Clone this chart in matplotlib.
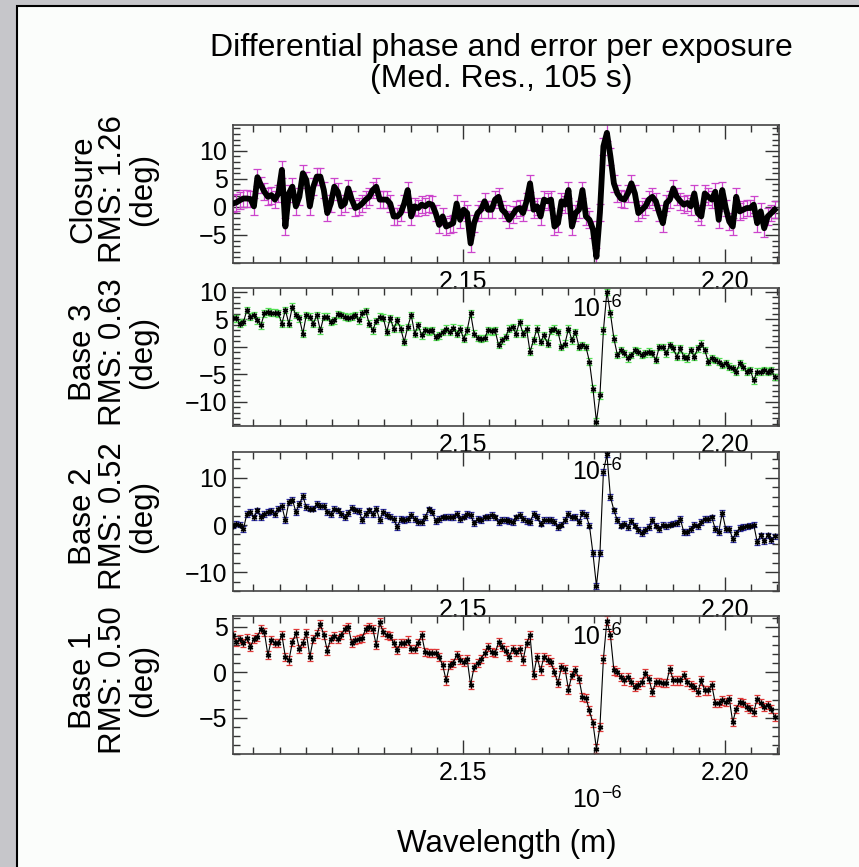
import matplotlib.pyplot as plt
import matplotlib.patches as patches
from matplotlib.ticker import FixedLocator, MultipleLocator, FormatStrFormatter
import numpy as np

plt.rcParams['font.family'] = ['Liberation Sans', 'DejaVu Sans']

# wavelength grid (micron, shown with a 10^-6 offset)
wl_start = 2.1061
wl_step = 0.000667

closure = [0.6, 0.8, 1.2, 1.5, 1.5, 1.4, 0.1, 5.3, 3.9, 2.7,
           1.8, 2.1, 1.3, 2.4, 6.6, -3.5, 2.4, 3.6, 0.1, 1.8,
           6.0, 4.8, 0.1, 3.6, 5.4, 5.4, 3.0, -1.1, 0.6, 3.6,
           2.7, 0.1, 0.6, 3.3, 1.3, -0.2, 0.1, 0.6, 1.3, 1.8,
           3.0, 3.6, 1.3, 1.3, 1.3, 0.6, -1.7, -1.7, -1.1, 0.6,
           3.0, -1.7, 0.1, -0.2, 0.4, 0.1, 0.6, 0.4, -1.1, -3.2,
           -1.7, -3.5, -3.2, -2.9, 0.6, -2.3, -0.5, -1.1, -6.5, -2.9,
           -1.1, -0.5, 1.0, -0.5, -0.5, 1.3, 1.8, -0.5, -1.1, -2.3,
           -1.4, -0.5, -0.2, -1.1, 1.0, 4.2, -0.5, 0.1, -1.7, 1.3,
           1.0, 1.3, -3.5, -2.9, 1.0, 0.4, 3.0, -3.5, -1.1, -0.5,
           3.0, -1.7, -2.3, -4.0, -8.9, -1.0, 10.8, 13.2, 9.0, 4.2,
           2.4, 1.5, 1.3, 2.4, 4.2, 2.4, -1.1, -0.5, 0.1, 1.3,
           1.8, 1.0, -1.1, -2.9, 0.7, 1.3, 3.3, 1.8, 1.0, 0.4,
           0.7, 0.1, 2.4, -1.1, -1.7, 2.4, 1.8, 1.3, 2.7, -2.3,
           3.0, -0.2, -2.6, -3.5, 1.8, -0.8, -0.5, -0.2, -0.2, 0.4,
           -2.9, -0.8, -3.8, -1.7, -1.1, -0.5]

base3 = [5.2, 5.2, 4.2, 4.5, 6.7, 5.5, 5.8, 4.8, 3.9, 6.1,
         6.4, 6.2, 6.2, 6.1, 4.2, 6.7, 4.2, 7.3, 5.8, 5.2,
         2.4, 5.8, 5.5, 4.2, 5.8, 3.0, 5.5, 5.5, 4.5, 4.8,
         5.9, 5.8, 5.5, 5.3, 5.5, 5.8, 4.8, 6.1, 6.5, 4.2,
         3.0, 4.7, 5.5, 5.3, 2.7, 5.2, 3.3, 4.8, 3.3, 0.9,
         3.6, 5.8, 2.4, 3.9, 2.1, 3.0, 2.8, 3.0, 1.8, 2.1,
         2.7, 3.3, 2.7, 3.5, 2.4, 3.3, 1.5, 3.0, 6.1, 2.4,
         1.6, 1.5, 1.6, 3.0, 2.8, 3.0, 0.3, 1.2, 1.8, 3.3,
         3.6, 2.4, 4.5, 2.4, 3.3, -0.9, 1.2, 3.3, 0.9, 2.1,
         0.6, 3.0, 3.3, 2.7, 0.0, 0.6, 3.3, 1.2, 2.7, 0.0,
         0.3, 0.0, -2.7, -7.6, -13.6, -8.8, 3.0, 10.0, 6.1, 1.5,
         -1.5, -0.6, -1.2, -2.1, -1.5, -0.6, -0.9, -1.5, -1.2, -0.9,
         -1.2, -2.4, 0.0, 0.0, -1.2, 0.3, -0.3, -1.8, -0.3, -1.8,
         -2.1, -0.6, -1.8, -0.3, 0.6, -0.6, -2.7, -2.1, -2.4, -2.7,
         -3.3, -3.0, -3.6, -3.9, -4.5, -3.0, -3.6, -4.5, -4.2, -6.1,
         -4.5, -4.5, -4.2, -4.5, -4.2, -5.5]

base2 = [-0.1, 0.3, 0.1, -0.8, 2.4, 2.8, 1.6, 3.1, 1.7, 2.4,
         2.8, 3.0, 2.4, 3.5, 4.0, 1.0, 4.9, 5.4, 2.8, 4.4,
         6.1, 3.8, 3.5, 3.5, 4.4, 4.0, 4.0, 2.8, 2.4, 3.5,
         3.1, 2.4, 1.7, 2.6, 3.7, 3.1, 3.0, 1.1, 2.4, 3.1,
         2.4, 3.5, 1.1, 2.8, 2.1, 1.8, 1.3, -0.4, 1.3, 1.0,
         1.3, 2.1, 1.3, 0.6, 0.6, 1.7, 3.3, 2.8, 0.9, 1.3,
         1.6, 1.8, 1.7, 1.7, 2.4, 1.3, 1.8, 2.3, 2.1, 0.4,
         1.3, 1.0, 1.6, 1.7, 2.1, 1.6, 0.6, 1.1, 1.1, 0.9,
         0.6, 1.6, 2.1, 1.3, 0.9, 0.6, 2.4, 1.7, 0.3, 1.1,
         1.1, 1.1, 0.6, -0.4, 0.1, 1.0, 2.4, 1.6, 1.7, 0.6,
         2.6, 2.1, -0.1, -6.0, -12.9, -6.0, 11.3, 15.0, 6.0, 3.1,
         1.0, -0.1, 0.3, -0.4, 0.9, -0.1, -1.1, -1.7, -1.1, -0.4,
         1.1, -0.1, -0.8, 0.1, -0.3, 0.1, 0.3, 0.4, 1.3, -1.5,
         -1.5, -0.8, 0.1, -0.3, 0.6, 1.3, 1.3, 1.6, -0.8, -1.5,
         2.6, -0.8, -0.8, -2.9, -1.7, -0.6, -0.4, -0.3, -0.1, 0.1,
         -3.6, -2.2, -3.4, -2.2, -3.2, -2.4]

base1 = [4.1, 3.3, 3.7, 3.2, 3.8, 2.8, 3.7, 3.9, 4.8, 4.4,
         1.9, 3.6, 3.2, 3.2, 4.1, 1.7, 1.3, 3.3, 4.3, 2.6,
         3.2, 4.3, 1.7, 3.7, 4.2, 5.3, 4.1, 2.4, 3.7, 4.0,
         3.7, 4.1, 4.8, 5.0, 3.2, 3.6, 3.7, 3.8, 4.8, 5.0,
         4.8, 3.0, 5.5, 4.4, 4.1, 4.0, 3.2, 2.5, 3.2, 3.2,
         3.5, 2.6, 2.6, 3.2, 4.1, 2.2, 2.1, 2.1, 2.1, 1.7,
         0.8, -0.9, 0.8, 1.0, 1.9, 1.4, 1.1, 1.5, -1.4, 0.6,
         1.0, 1.5, 2.1, 2.8, 2.2, 2.1, 3.3, 2.8, 2.4, 1.7,
         2.6, 2.2, 2.6, 1.3, 3.2, 4.1, -0.3, 1.7, 0.2, 1.7,
         1.4, 1.1, 0.0, -1.2, 0.6, 0.4, -1.9, -0.3, 0.2, -0.7,
         -2.7, -2.8, -4.2, -5.6, -8.4, -6.0, 1.5, 5.7, 4.1, 0.2,
         0.0, -0.5, -0.9, -0.5, -1.1, -1.6, -1.4, -1.1, -0.1, -0.7,
         -2.2, -1.1, -1.1, -1.2, -1.2, 0.4, -0.9, -0.9, -0.9, -0.3,
         -1.1, -1.4, -1.6, -2.2, -0.9, -2.0, -2.0, -1.4, -3.4, -3.4,
         -3.1, -3.3, -2.9, -5.5, -4.0, -3.3, -3.4, -3.8, -4.0, -4.4,
         -2.9, -3.4, -3.8, -3.6, -4.0, -4.9]

names = ["Closure", "Base 3", "Base 2", "Base 1"]
rms = ["1.26", "0.63", "0.52", "0.50"]
errors = [1.5, 0.6, 0.6, 0.45]
colors = ["#cc44cc", "#55e055", "#3030a8", "#e03838"]
series = [closure, base3, base2, base1]
ylims = [(-10, 14.6), (-14.4, 10.7), (-14, 15.5), (-9, 6.2)]
yticks = [[-5, 0, 5, 10], [-10, -5, 0, 5, 10], [-10, 0, 10], [-5, 0, 5]]
yminor = [1, 1, 2, 1]

W, H = 859, 867
fig = plt.figure(figsize=(W / 100, H / 100), dpi=100, facecolor="#c6c6ca")
frame = patches.Rectangle((17 / W, -0.05), 1.0, 1.05 - 6 / H, transform=fig.transFigure,
                          facecolor="#fbfdfb", edgecolor="black", lw=1.5, zorder=-10)
fig.patches.append(frame)

# panel pixel boxes (top, bottom)
boxes = [(125, 263), (288, 426), (452, 591), (616, 754)]
x0, x1 = 233, 779

for k, (top, bot) in enumerate(boxes):
    ax = fig.add_axes([x0 / W, 1 - bot / H, (x1 - x0) / W, (bot - top) / H])
    ax.patch.set_visible(False)
    y = np.array(series[k])
    wl = wl_start + wl_step * np.arange(len(y))
    if k == 0:
        ax.errorbar(wl, y, yerr=errors[k], fmt="none", ecolor=colors[k],
                    elinewidth=0.9, capsize=3, capthick=0.9, zorder=2)
        ax.plot(wl, y, color="black", lw=4.2, solid_joinstyle="round", zorder=3)
    else:
        ax.errorbar(wl, y, yerr=errors[k], fmt="none", ecolor=colors[k],
                    elinewidth=0.9, capsize=2, capthick=0.9, zorder=2)
        ax.plot(wl, y, color="black", lw=0.8, marker=(6, 2, 0), ms=4, mew=1.0, zorder=3)

    ax.set_xlim(2.10611, 2.21031)
    ax.set_ylim(*ylims[k])
    ax.xaxis.set_major_locator(MultipleLocator(0.05))
    ax.xaxis.set_minor_locator(MultipleLocator(0.005))
    ax.xaxis.set_major_formatter(FormatStrFormatter("%.2f"))
    ax.yaxis.set_major_locator(FixedLocator(yticks[k]))
    ax.yaxis.set_minor_locator(MultipleLocator(yminor[k]))

    ax.tick_params(which="both", direction="in", top=True, right=True,
                   labelsize=18, color="#333333", width=1)
    ax.tick_params(which="major", length=10)
    ax.tick_params(which="minor", length=5)
    ax.tick_params(axis="x", pad=5)
    ax.tick_params(axis="y", pad=4)
    for s in ax.spines.values():
        s.set_color("#444444")
        s.set_linewidth(1.2)

    # offset text of the wavelength axis
    ax.text(0.621, -0.245, "10", transform=ax.transAxes,
            ha="left", va="top", fontsize=18)
    ax.text(0.674, -0.225, "\u22126", transform=ax.transAxes,
            ha="left", va="top", fontsize=13)

    ax.set_ylabel(f"{names[k]}\nRMS: {rms[k]}\n(deg)", fontsize=22.5,
                  linespacing=1.0, va="center")
    ax.yaxis.set_label_coords(-0.22, 0.536)

fig.text(501 / W, 1 - 33 / H, "Differential phase and error per exposure\n(Med. Res., 105 s)",
         ha="center", va="top", fontsize=23, linespacing=1.05)
fig.text(507 / W, 1 - 844 / H, "Wavelength (m)", ha="center", va="center", fontsize=22.5)

fig.savefig("out.png", dpi=100, facecolor=fig.get_facecolor())
